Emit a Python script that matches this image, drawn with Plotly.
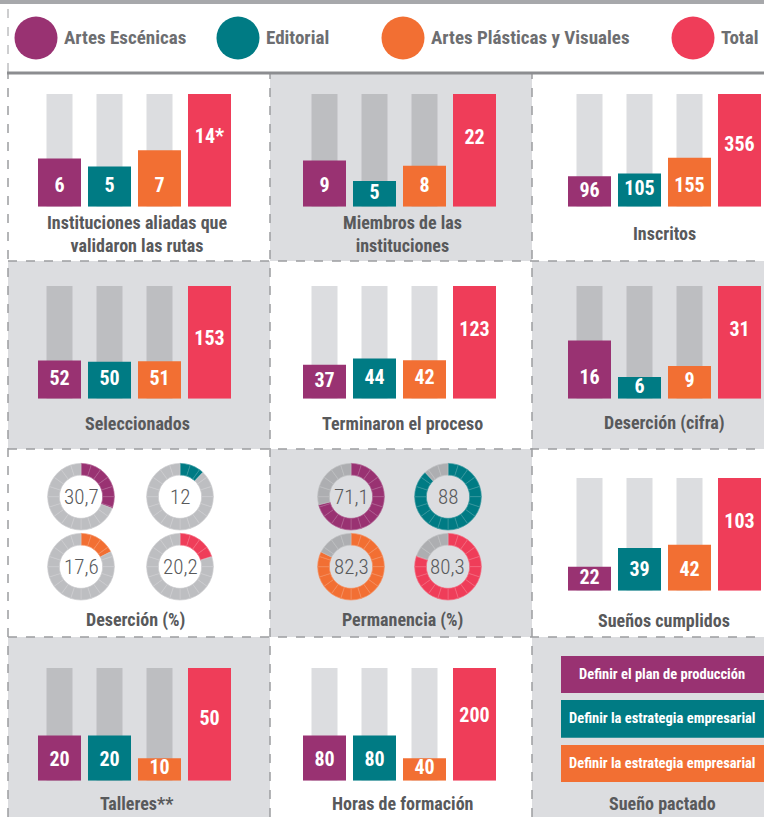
import plotly.graph_objects as go

W, H = 764, 817

# ---------------- data ----------------
categories = ["Artes Escénicas", "Editorial", "Artes Plásticas y Visuales", "Total"]
colors = ["#993272", "#007b84", "#f26f33", "#ef3d59"]

instituciones = [6, 5, 7, 14]
instituciones_labels = ["6", "5", "7", "14*"]
miembros = [9, 5, 8, 22]
inscritos = [96, 105, 155, 356]
seleccionados = [52, 50, 51, 153]
terminaron = [37, 44, 42, 123]
desercion_cifra = [16, 6, 9, 31]
suenos_cumplidos = [22, 39, 42, 103]
talleres = [20, 20, 10, 50]
horas = [80, 80, 40, 200]
desercion_pct = [30.7, 12, 17.6, 20.2]
permanencia_pct = [71.1, 88, 82.3, 80.3]
sueno_pactado = ["Definir el plan de producción",
                 "Definir la estrategia empresarial",
                 "Definir la estrategia empresarial"]

# ---------------- style / layout ----------------
COND = "Liberation Sans Narrow, Arial Narrow, Roboto Condensed, DejaVu Sans Condensed, sans-serif"
TITLE_C = "#58595b"
SHADE = "#dcdde0"
BG_LIGHT = "#dcdde0"
BG_DARK = "#bdbec1"
DASH_C = "#9c9da0"


def X(px):
    return px / W


def Y(py):
    return 1 - py / H


def lighten(hexc, f):
    hexc = hexc.lstrip("#")
    r, g, b = (int(hexc[i:i + 2], 16) for i in (0, 2, 4))
    r, g, b = (round(c + (255 - c) * f) for c in (r, g, b))
    return f"rgb({r},{g},{b})"


col_left = {0: 38, 1: 303, 2: 568}
col_title = {0: 137, 1: 402, 2: 664}
row_bars = {0: (94, 206.7), 1: (286, 398.7), 2: (478, 590.7), 3: (668, 780.7)}
row_title = {0: 234, 1: 423, 2: 620, 3: 803}
shaded = {(0, 1), (1, 0), (1, 2), (2, 1), (3, 0), (3, 2)}

bar_panels = [
    dict(title="Instituciones aliadas que<br>validaron las rutas", values=instituciones,
         labels=instituciones_labels, row=0, col=0, roff=44),
    dict(title="Miembros de las<br>instituciones", values=miembros, row=0, col=1, roff=45),
    dict(title="Inscritos", values=inscritos, row=0, col=2, roff=52),
    dict(title="Seleccionados", values=seleccionados, row=1, col=0, roff=54),
    dict(title="Terminaron el proceso", values=terminaron, row=1, col=1, roff=45),
    dict(title="Deserción (cifra)", values=desercion_cifra, row=1, col=2, roff=45),
    dict(title="Sueños cumplidos", values=suenos_cumplidos, row=2, col=2, roff=45),
    dict(title="Talleres**", values=talleres, row=3, col=0, roff=52),
    dict(title="Horas de formación", values=horas, row=3, col=1, roff=49),
]

fig = go.Figure()
shapes = []
annotations = []
layout_axes = {}


def title_ann(text, x, y, size=18):
    annotations.append(dict(text=text, x=X(x), y=Y(y), xref="paper", yref="paper",
                            showarrow=False, xanchor="center", yanchor="middle",
                            font=dict(family=COND, size=size, color=TITLE_C, weight="bold")))


# background shading
for (r, c) in shaded:
    x0 = {0: 8, 1: 270, 2: 532}[c]
    x1 = {0: 270, 1: 532, 2: 764}[c]
    y0 = {0: 74, 1: 261, 2: 449, 3: 637}[r]
    y1 = {0: 261, 1: 449, 2: 637, 3: 817}[r]
    shapes.append(dict(type="rect", xref="paper", yref="paper", x0=X(x0), x1=X(x1),
                       y0=Y(y1), y1=Y(y0), fillcolor=SHADE, line=dict(width=0), layer="below"))

# grid dashed lines
for gx in (8, 270, 532):
    shapes.append(dict(type="line", xref="paper", yref="paper", x0=X(gx), x1=X(gx),
                       y0=Y(817), y1=Y(74), line=dict(color=DASH_C, width=1.5, dash="dash"),
                       layer="below"))
for gy in (261, 449, 637):
    shapes.append(dict(type="line", xref="paper", yref="paper", x0=X(8), x1=X(764),
                       y0=Y(gy), y1=Y(gy), line=dict(color=DASH_C, width=1.5, dash="dash"),
                       layer="below"))
# legend-area left dashed line
shapes.append(dict(type="line", xref="paper", yref="paper", x0=X(8), x1=X(8),
                   y0=Y(72), y1=Y(8), line=dict(color=DASH_C, width=1, dash="dash"), layer="below"))
# top lines
shapes.append(dict(type="rect", xref="paper", yref="paper", x0=0, x1=1, y0=Y(4), y1=1,
                   fillcolor="#a7a8ab", line=dict(width=0), layer="below"))
shapes.append(dict(type="line", xref="paper", yref="paper", x0=X(7), x1=1, y0=Y(73), y1=Y(73),
                   line=dict(color="#8c8d90", width=3), layer="below"))

# legend
leg_cx = [36, 238, 403, 693]
for i, cat in enumerate(categories):
    cx, cy, r = leg_cx[i], 38, 21.5
    shapes.append(dict(type="circle", xref="paper", yref="paper", x0=X(cx - r), x1=X(cx + r),
                       y0=Y(cy + r), y1=Y(cy - r), fillcolor=colors[i], line=dict(width=0)))
    annotations.append(dict(text=cat, x=X(cx + r + 4), y=Y(38), xref="paper", yref="paper",
                            showarrow=False, xanchor="left", yanchor="middle",
                            font=dict(family=COND, size=19, color="#6d6e71", weight="bold")))

# bar panels
for k, p in enumerate(bar_panels, start=1):
    vals = p["values"]
    labels = p.get("labels", [str(v) for v in vals])
    total = vals[-1]
    left = col_left[p["col"]]
    top, bot = row_bars[p["row"]]
    ppu = (bot - top) / total
    xs = "" if k == 1 else str(k)
    layout_axes["xaxis" + xs] = dict(domain=[X(left), X(left + 193)], range=[-0.43, 3.43],
                                     visible=False, fixedrange=True, anchor="y" + xs)
    layout_axes["yaxis" + xs] = dict(domain=[Y(bot), Y(top)], range=[0, total],
                                     visible=False, fixedrange=True, anchor="x" + xs)
    bg = BG_DARK if (p["row"], p["col"]) in shaded else BG_LIGHT
    fig.add_trace(go.Bar(x=[0, 1, 2], y=[total] * 3, width=0.52, marker=dict(color=bg, line=dict(width=0)),
                         xaxis="x" + xs, yaxis="y" + xs, hoverinfo="skip", showlegend=False))
    fig.add_trace(go.Bar(x=[0, 1, 2, 3], y=vals, width=0.86,
                         marker=dict(color=colors, line=dict(width=0)),
                         xaxis="x" + xs, yaxis="y" + xs, hoverinfo="skip", showlegend=False))
    ly = []
    for i, v in enumerate(vals):
        if i < 3:
            ly.append(min(v * ppu / 2, 20) / ppu)
        else:
            ly.append(total - p["roff"] / ppu)
    fig.add_trace(go.Scatter(x=[0, 1, 2, 3], y=ly, mode="text", text=labels,
                             textposition="middle center", cliponaxis=False,
                             textfont=dict(family=COND, size=20, color="white", weight="bold"),
                             xaxis="x" + xs, yaxis="y" + xs, hoverinfo="skip", showlegend=False))
    title_ann(p["title"], col_title[p["col"]], row_title[p["row"]])

# donut panels
donut_panels = [
    dict(title="Deserción (%)", values=desercion_pct,
         centers=[(81, 496.7), (180, 496.7), (81, 566.7), (180, 566.7)], tx=135,
         gray="#bdbec1"),
    dict(title="Permanencia (%)", values=permanencia_pct,
         centers=[(351, 496.7), (448, 496.7), (351, 566.7), (448, 566.7)], tx=402,
         gray="#adaeb1"),
]
R = 33.3
for dp in donut_panels:
    for i, v in enumerate(dp["values"]):
        cx, cy = dp["centers"][i]
        seg_vals, seg_cols = [], []
        for a in range(0, 100, 5):
            b = a + 5
            if b <= v:
                seg_vals.append(5); seg_cols.append(colors[i])
            elif a >= v:
                seg_vals.append(5); seg_cols.append(dp["gray"])
            else:
                seg_vals.append(v - a); seg_cols.append(colors[i])
                seg_vals.append(b - v); seg_cols.append(dp["gray"])
        line_cols = [lighten(c, 0.22) for c in seg_cols]
        fig.add_trace(go.Pie(values=seg_vals, marker=dict(colors=seg_cols,
                                                          line=dict(color=line_cols, width=0.7)),
                             hole=0.65, sort=False, direction="clockwise", rotation=0,
                             textinfo="none", hoverinfo="skip", showlegend=False,
                             domain=dict(x=[X(cx - R), X(cx + R)], y=[Y(cy + R), Y(cy - R)])))
        txt = (f"{v:.1f}".replace(".", ",") if v != int(v) else str(int(v)))
        annotations.append(dict(text=txt, x=X(cx), y=Y(cy), xref="paper", yref="paper",
                                showarrow=False, xanchor="center", yanchor="middle",
                                font=dict(family=COND, size=21, color=TITLE_C, weight=300)))
    title_ann(dp["title"], dp["tx"], 620)

# sueño pactado
box_y = [(656, 693), (700, 737.7), (745, 782)]
for i, txt in enumerate(sueno_pactado):
    y0, y1 = box_y[i]
    shapes.append(dict(type="rect", xref="paper", yref="paper", x0=X(561), x1=X(764),
                       y0=Y(y1), y1=Y(y0), fillcolor=colors[i], line=dict(width=0)))
    annotations.append(dict(text=txt, x=X(662), y=Y((y0 + y1) / 2), xref="paper", yref="paper",
                            showarrow=False, xanchor="center", yanchor="middle",
                            font=dict(family=COND, size=14.5, color="white", weight="bold")))
title_ann("Sueño pactado", 662, 803)

fig.update_layout(width=W, height=H, margin=dict(l=0, r=0, t=0, b=0), autosize=False,
                  paper_bgcolor="white", plot_bgcolor="rgba(0,0,0,0)", barmode="overlay",
                  shapes=shapes, annotations=annotations, showlegend=False, **layout_axes)

fig.write_html("out.html", config={"displayModeBar": False})
